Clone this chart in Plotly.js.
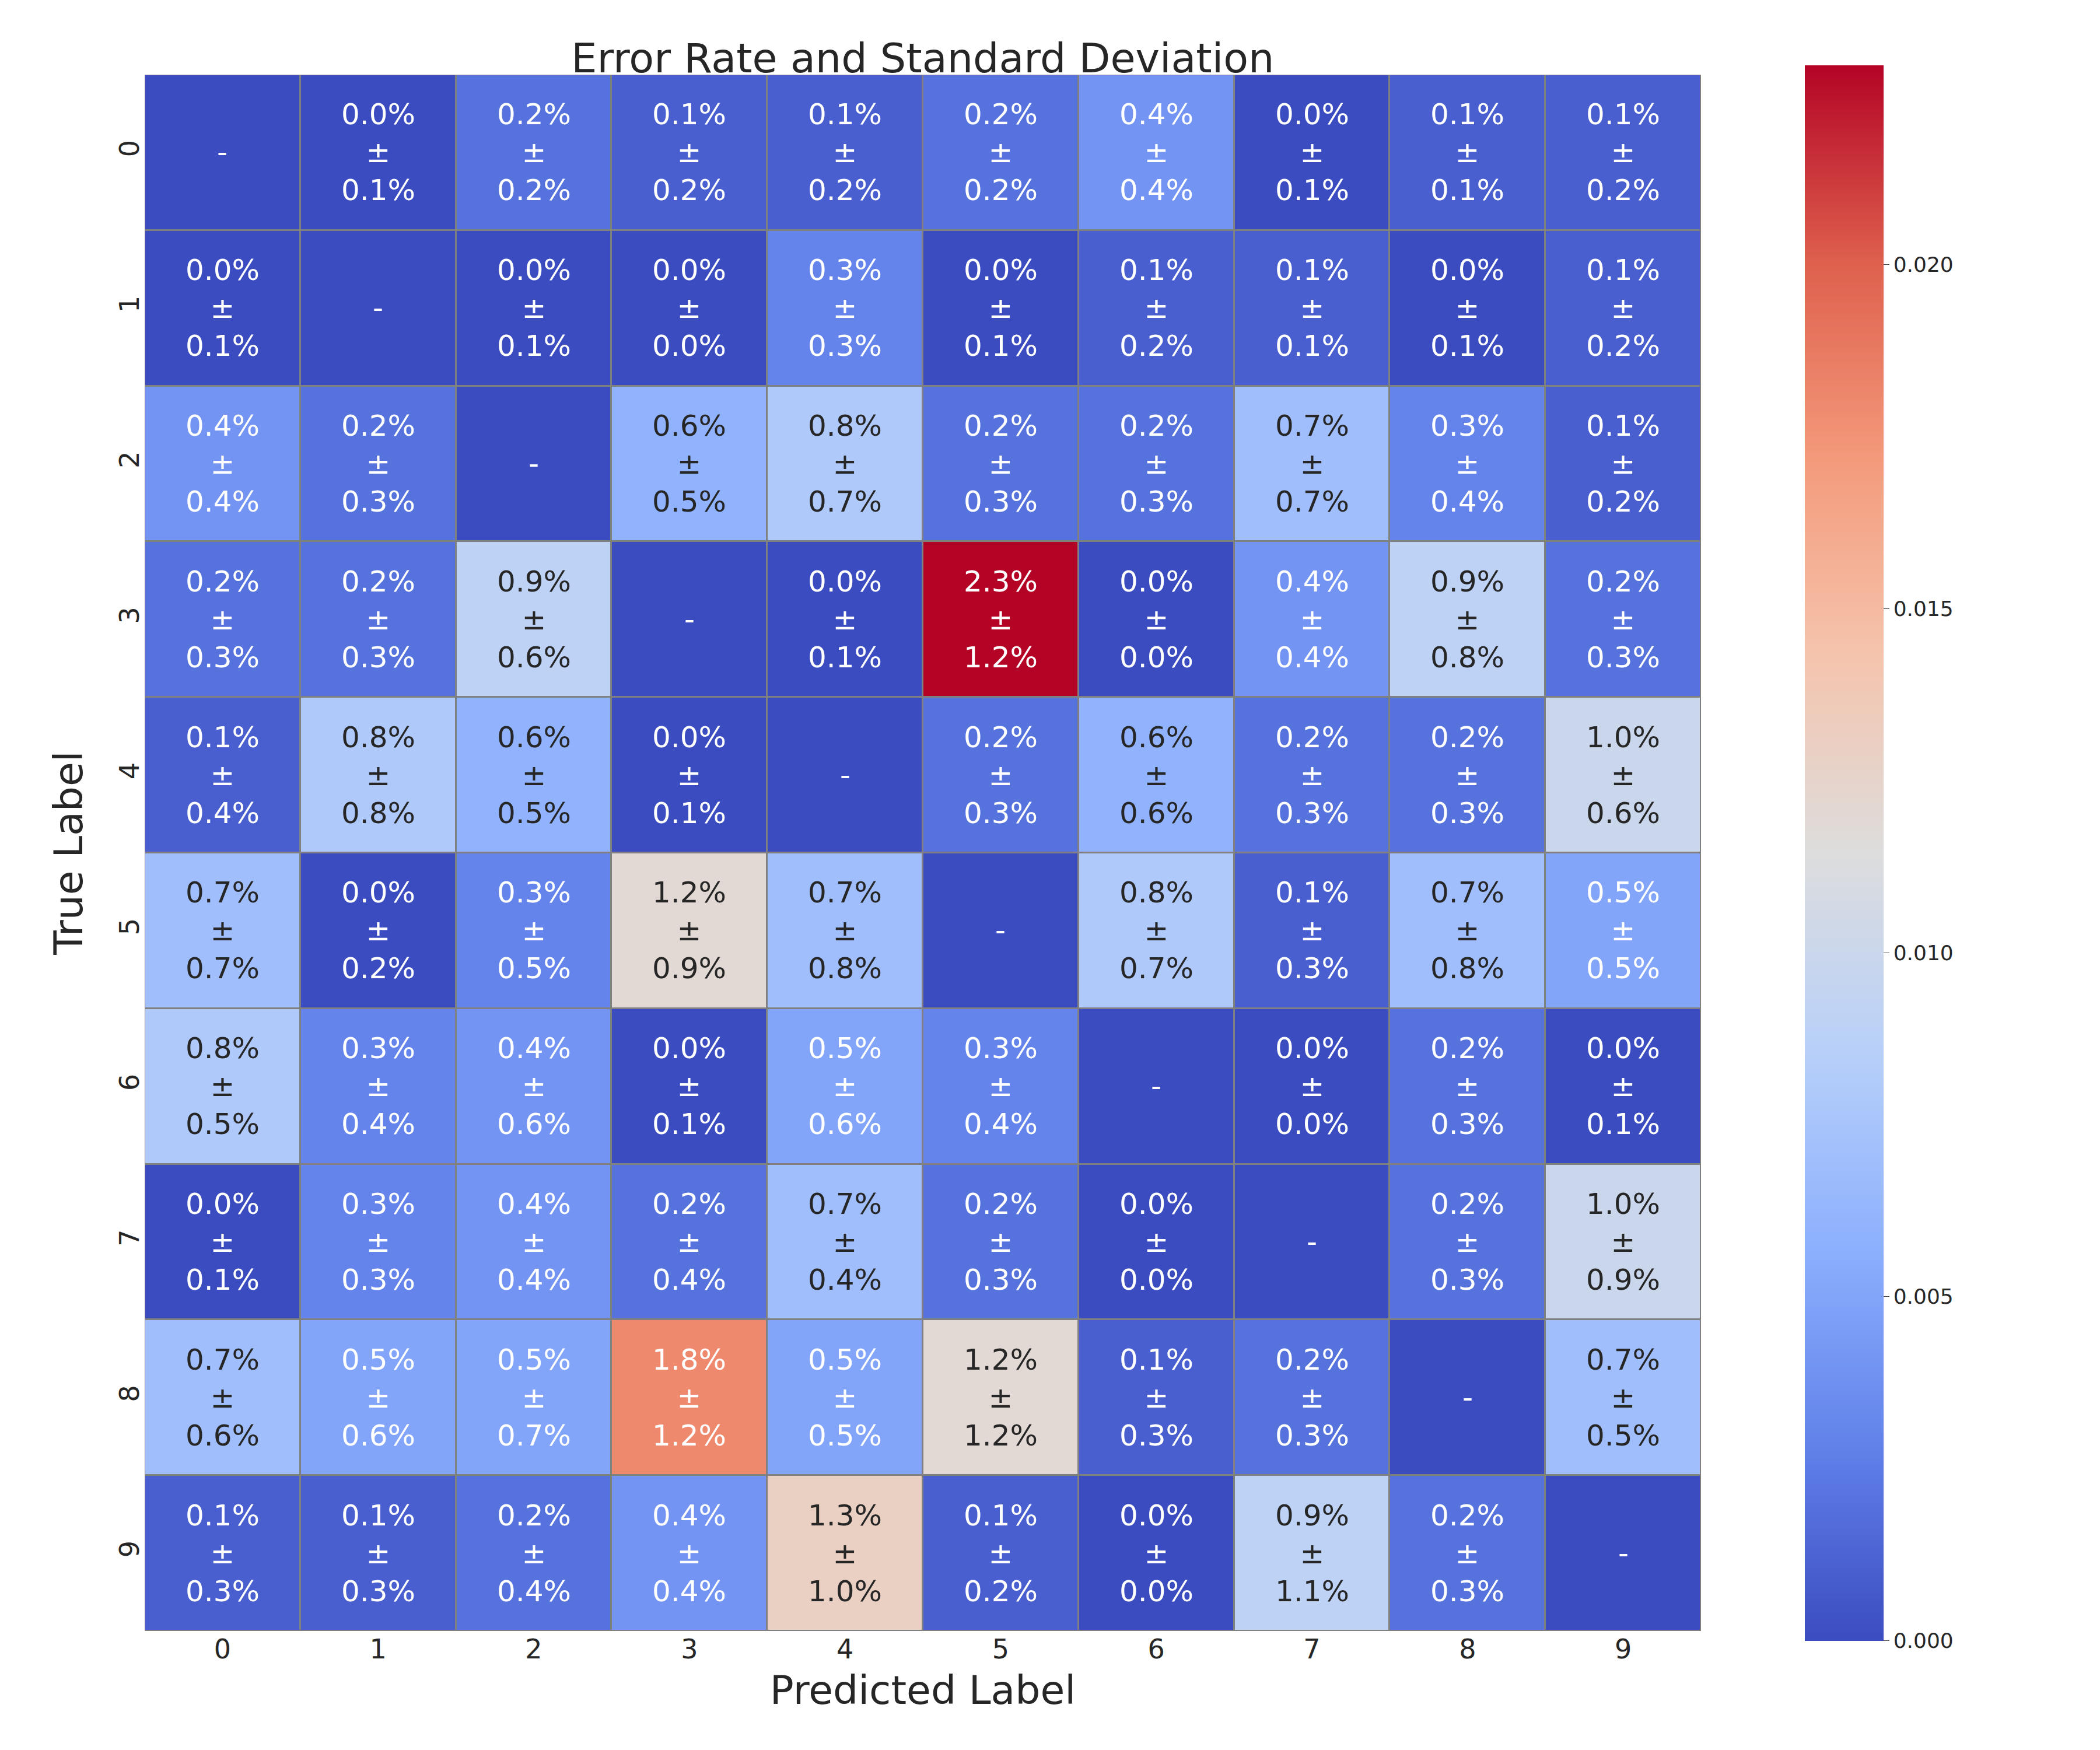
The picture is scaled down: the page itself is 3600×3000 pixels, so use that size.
<!DOCTYPE html>
<html>
<head>
<meta charset="utf-8">
<script src="https://cdn.plot.ly/plotly-3.0.1.min.js"></script>
<style>html,body{margin:0;padding:0;background:#fff}</style>
</head>
<body>
<div id="chart" style="width:3600px;height:3000px"></div>
<script>
// Mean error rates (%) — rows: true label, cols: predicted label; null = diagonal
const labels = ['0', '1', '2', '3', '4', '5', '6', '7', '8', '9'];
const meanPct = [
    [null, 0.0, 0.2, 0.1, 0.1, 0.2, 0.4, 0.0, 0.1, 0.1],
    [0.0, null, 0.0, 0.0, 0.3, 0.0, 0.1, 0.1, 0.0, 0.1],
    [0.4, 0.2, null, 0.6, 0.8, 0.2, 0.2, 0.7, 0.3, 0.1],
    [0.2, 0.2, 0.9, null, 0.0, 2.3, 0.0, 0.4, 0.9, 0.2],
    [0.1, 0.8, 0.6, 0.0, null, 0.2, 0.6, 0.2, 0.2, 1.0],
    [0.7, 0.0, 0.3, 1.2, 0.7, null, 0.8, 0.1, 0.7, 0.5],
    [0.8, 0.3, 0.4, 0.0, 0.5, 0.3, null, 0.0, 0.2, 0.0],
    [0.0, 0.3, 0.4, 0.2, 0.7, 0.2, 0.0, null, 0.2, 1.0],
    [0.7, 0.5, 0.5, 1.8, 0.5, 1.2, 0.1, 0.2, null, 0.7],
    [0.1, 0.1, 0.2, 0.4, 1.3, 0.1, 0.0, 0.9, 0.2, null],
];
const stdPct = [
    [null, 0.1, 0.2, 0.2, 0.2, 0.2, 0.4, 0.1, 0.1, 0.2],
    [0.1, null, 0.1, 0.0, 0.3, 0.1, 0.2, 0.1, 0.1, 0.2],
    [0.4, 0.3, null, 0.5, 0.7, 0.3, 0.3, 0.7, 0.4, 0.2],
    [0.3, 0.3, 0.6, null, 0.1, 1.2, 0.0, 0.4, 0.8, 0.3],
    [0.4, 0.8, 0.5, 0.1, null, 0.3, 0.6, 0.3, 0.3, 0.6],
    [0.7, 0.2, 0.5, 0.9, 0.8, null, 0.7, 0.3, 0.8, 0.5],
    [0.5, 0.4, 0.6, 0.1, 0.6, 0.4, null, 0.0, 0.3, 0.1],
    [0.1, 0.3, 0.4, 0.4, 0.4, 0.3, 0.0, null, 0.3, 0.9],
    [0.6, 0.6, 0.7, 1.2, 0.5, 1.2, 0.3, 0.3, null, 0.5],
    [0.3, 0.3, 0.4, 0.4, 1.0, 0.2, 0.0, 1.1, 0.3, null],
];

const coolwarm = [
    [0.0, 'rgb(59,76,192)'], [0.125, 'rgb(98,130,234)'], [0.25, 'rgb(141,176,254)'],
    [0.375, 'rgb(184,208,249)'], [0.5, 'rgb(221,221,221)'], [0.625, 'rgb(245,196,173)'],
    [0.75, 'rgb(244,154,123)'], [0.875, 'rgb(222,96,77)'], [1.0, 'rgb(180,4,38)'],
];

const z = meanPct.map(r => r.map(v => v === null ? 0 : v / 100));

const annotations = [];
meanPct.forEach((row, i) => {
    row.forEach((v, j) => {
        let text, color;
        if (v === null) {
            text = '-';
            color = '#fff';
        } else {
            text = `${v.toFixed(1)}%<br>±<br>${stdPct[i][j].toFixed(1)}%`;
            color = (v >= 0.6 && v <= 1.5) ? '#262626' : '#fff';
        }
        annotations.push({
            x: labels[j], y: labels[i], text, showarrow: false,
            font: { size: 50, color, family: 'DejaVu Sans' },
        });
    });
});

const trace = {
    type: 'heatmap', x: labels, y: labels, z,
    colorscale: coolwarm, zmin: 0, zmax: 0.0229,
    xgap: 3, ygap: 3,
    colorbar: {
        x: 1.063, xanchor: 'left', len: 1.02, y: 0.5, yanchor: 'middle',
        thickness: 135, outlinewidth: 0,
        tickvals: [0, 0.005, 0.01, 0.015, 0.02], tickformat: '.3f',
        ticks: 'outside', ticklen: 10, tickfont: { size: 36, family: 'DejaVu Sans', color: '#262626' },
    },
    hoverinfo: 'skip',
};

const layout = {
    width: 3600, height: 3000,
    margin: { l: 248, r: 684, t: 128, b: 204, autoexpand: false },
    paper_bgcolor: '#fff', plot_bgcolor: '#808080',
    font: { family: 'DejaVu Sans', color: '#262626' },
    title: { text: 'Error Rate and Standard Deviation', x: 0.4394, xanchor: 'center', y: 0.975, font: { size: 70 } },
    xaxis: {
        type: 'category', showgrid: false, zeroline: false, ticks: '',
        tickfont: { size: 46 }, title: { text: 'Predicted Label', font: { size: 68 }, standoff: 20 },
    },
    yaxis: {
        type: 'category', autorange: 'reversed', showgrid: false, zeroline: false, ticks: '',
        tickangle: -90, tickfont: { size: 46 }, title: { text: 'True Label', font: { size: 68 }, standoff: 30 },
    },
    annotations,
};

Plotly.newPlot('chart', [trace], layout, { staticPlot: true });
</script>
</body>
</html>
